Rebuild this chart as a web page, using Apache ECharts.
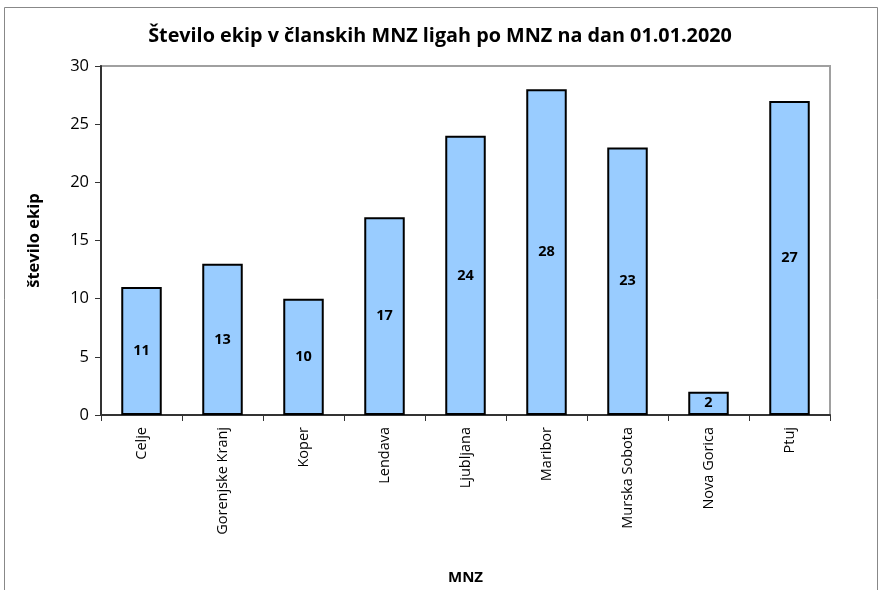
<!DOCTYPE html>
<html><head><meta charset="utf-8">
<script src="https://cdn.jsdelivr.net/npm/echarts@6/dist/echarts.min.js"></script>
<style>html,body{margin:0;padding:0;background:#fff}#c{width:881px;height:590px}</style>
</head><body><div id="c"></div>
<script>
const categories = ['Celje','Gorenjske Kranj','Koper','Lendava','Ljubljana','Maribor','Murska Sobota','Nova Gorica','Ptuj'];
const values = [11,13,10,17,24,28,23,2,27];
const yTicks = [0,5,10,15,20,25,30];

const chart = echarts.init(document.getElementById('c'), null, {renderer:'canvas'});
chart.setOption({
  animation:false,
  backgroundColor:'#fff',
  title:{text:'Število ekip v članskih MNZ ligah po MNZ na dan 01.01.2020', left:435, top:21, textAlign:'center',
    textStyle:{fontFamily:'Open Sans', fontWeight:'bold', fontSize:19.8, color:'#000'}},
  graphic:[{type:'rect', shape:{x:4.5,y:7.5,width:873,height:590}, style:{fill:'none', stroke:'#888', lineWidth:1}, z:-1}],
  grid:{left:101, right:51, top:66, bottom:174, show:true, borderColor:'#a0a0a0', borderWidth:2, backgroundColor:'transparent'},
  xAxis:{type:'category', data:categories, name:'MNZ', nameLocation:'middle', nameGap:155,
    nameTextStyle:{fontFamily:'Open Sans', fontWeight:'bold', fontSize:15, color:'#000'},
    axisLine:{lineStyle:{color:'#333', width:2}}, axisTick:{show:true, alignWithLabel:false, length:6, lineStyle:{color:'#333'}},
    axisLabel:{rotate:90, margin:12, fontFamily:'Open Sans', fontSize:14.5, color:'#000'}},
  yAxis:{type:'value', min:0, max:30, interval:5, name:'število ekip', nameLocation:'middle', nameGap:58, nameRotate:90,
    nameTextStyle:{fontFamily:'Open Sans', fontWeight:'bold', fontSize:16.5, color:'#000'},
    axisLine:{show:true, lineStyle:{color:'#333', width:2}}, axisTick:{show:true, length:6, lineStyle:{color:'#333'}},
    splitLine:{show:false},
    axisLabel:{margin:12, fontFamily:'Open Sans', fontSize:16.5, color:'#000', formatter:v=>yTicks.includes(v)?String(v):''}},
  series:[{type:'bar', data:values, barWidth:'50%',
    itemStyle:{color:'#99ccff', borderColor:'#000', borderWidth:2},
    label:{show:true, position:'inside', fontFamily:'Open Sans', fontWeight:'bold', fontSize:14.5, color:'#000'}}]
});
</script></body></html>
